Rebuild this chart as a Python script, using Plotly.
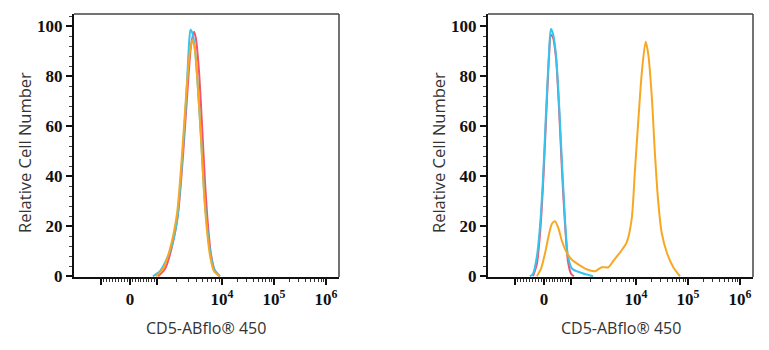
import plotly.graph_objects as go
import math

# x values are display channels (0-1024) of the biexponential axis
tick_channels = [104, 216, 321, 572, 773, 974]
tick_labels = ["", "0", "", "10<sup>4</sup>", "10<sup>5</sup>", "10<sup>6</sup>"]
y_ticks = [0, 20, 40, 60, 80, 100]

# Left panel (CD5-negative cells)
left_cyan_x = [305, 332, 371, 398, 417, 433, 444, 450, 458, 468, 479, 491, 502, 514, 526, 541, 564]
left_cyan_y = [0, 2, 10, 22, 45, 70, 92, 98.5, 97, 90, 75, 55, 35, 20, 10, 3, 0]
left_red_x = [325, 352, 379, 402, 421, 437, 452, 464, 471, 483, 495, 506, 518, 529, 545, 564]
left_red_y = [0, 3, 12, 25, 48, 72, 92, 97.7, 95, 82, 60, 38, 20, 9, 2, 0]
left_gold_x = [317, 344, 371, 398, 417, 433, 448, 458, 468, 479, 491, 502, 514, 526, 541, 564]
left_gold_y = [0, 3, 11, 25, 48, 72, 90, 94.5, 90, 75, 55, 34, 18, 8, 2, 0]

# Right panel (CD5-positive cells)
right_cyan_x = [162, 174, 189, 201, 213, 224, 236, 243, 251, 263, 274, 286, 298, 309, 325, 356, 406]
right_cyan_y = [0, 1, 8, 20, 40, 65, 90, 98.8, 97, 88, 70, 45, 22, 8, 3, 1.5, 0]
right_red_x = [174, 189, 201, 213, 224, 236, 243, 251, 263, 274, 286, 298, 309, 321, 332]
right_red_y = [0, 5, 17, 37, 62, 88, 96.5, 95.5, 87, 68, 42, 20, 6, 1, 0]
right_gold_x = [189, 205, 220, 236, 247, 259, 271, 286, 304, 325, 356, 381, 413, 439, 465, 484,
                510, 536, 555, 568, 581, 594, 609, 619, 633, 645, 658, 671, 691, 716, 742]
right_gold_y = [0, 3, 9, 17, 21, 22, 19.5, 14, 9.5, 6.5, 4.3, 2.8, 2, 3.6, 3.6, 6.1,
                9.5, 13.5, 22.7, 42.6, 62.5, 81, 93.7, 89, 71.8, 49, 29.5, 17.5, 9.5, 3.6, 0]

RED = "#f0566c"
CYAN = "#36c3ee"
GOLD = "#f7a823"

fig = go.Figure()

def add(x, y, color, xa, ya):
    fig.add_trace(go.Scatter(x=x, y=y, mode="lines", xaxis=xa, yaxis=ya,
                             line=dict(color=color, width=2, shape="spline", smoothing=0.7),
                             showlegend=False, hoverinfo="skip"))

add(left_red_x, left_red_y, RED, "x", "y")
add(left_cyan_x, left_cyan_y, CYAN, "x", "y")
add(left_gold_x, left_gold_y, GOLD, "x", "y")
add(right_red_x, right_red_y, RED, "x2", "y2")
add(right_cyan_x, right_cyan_y, CYAN, "x2", "y2")
add(right_gold_x, right_gold_y, GOLD, "x2", "y2")

# minor ticks on the biexponential axis
minor = []
for k in range(1, 10):
    minor.append(216 - k * 11.2)
    minor.append(216 + k * 10.5)
for k in range(2, 10):
    minor.append(321 + 251 * math.log10(k))
    minor.append(572 + 201 * math.log10(k))
    minor.append(773 + 201 * math.log10(k))

tickfont = dict(family="Liberation Serif", size=17, color="#111")
xcommon = dict(range=[0, 1024], tickmode="array", tickvals=tick_channels,
               ticktext=["<b>%s</b>" % t if t else "" for t in tick_labels],
               ticks="outside", ticklen=6, tickwidth=1.5, tickcolor="#111",
               showline=True, linecolor="#111", linewidth=2, showgrid=False, zeroline=False,
               tickfont=tickfont, automargin=False,
               minor=dict(tickvals=minor, ticks="outside", ticklen=3, tickwidth=1, tickcolor="#333"))
ycommon = dict(range=[-0.3, 104.8], tickmode="array", tickvals=y_ticks,
               ticktext=["<b>%d</b>" % v for v in y_ticks],
               ticks="outside", ticklen=6, tickwidth=1.5, tickcolor="#111",
               showline=True, linecolor="#111", linewidth=2, showgrid=False, zeroline=False,
               tickfont=tickfont, automargin=False,
               minor=dict(dtick=4, ticks="outside", ticklen=3, tickwidth=1, tickcolor="#444"))

W, H = 769, 350
ybot, ytop = 1 - 277 / H, 1 - 14 / H
fig.update_layout(
    width=W, height=H, margin=dict(l=0, r=0, t=0, b=0, pad=0, autoexpand=False),
    paper_bgcolor="white", plot_bgcolor="white",
    xaxis=dict(domain=[74 / W, 339 / W], anchor="y", **xcommon),
    yaxis=dict(domain=[ybot, ytop], anchor="x", **ycommon),
    xaxis2=dict(domain=[488 / W, 753 / W], anchor="y2", **xcommon),
    yaxis2=dict(domain=[ybot, ytop], anchor="x2", **ycommon),
)

# top/right frame lines
for xr, yr in (("x domain", "y domain"), ("x2 domain", "y2 domain")):
    fig.add_shape(type="line", xref=xr, yref=yr, x0=0, x1=1, y0=1, y1=1,
                  line=dict(color="#444", width=1.5))
    fig.add_shape(type="line", xref=xr, yref=yr, x0=1, x1=1, y0=0, y1=1,
                  line=dict(color="#444", width=1.5))

for cx in (206 / W, 621 / W):
    fig.add_annotation(text="CD5-ABflo® 450", x=cx, y=1 - 328 / H, xref="paper", yref="paper",
                       showarrow=False, font=dict(family="Open Sans", size=16, color="#333"),
                       xanchor="center", yanchor="middle")
for cx in (24 / W, 438 / W):
    fig.add_annotation(text="Relative Cell Number", x=cx, y=1 - 153 / H, xref="paper", yref="paper",
                       showarrow=False, textangle=-90,
                       font=dict(family="Open Sans", size=16.5, color="#333"),
                       xanchor="center", yanchor="middle")

fig.write_html("out.html", config={"displayModeBar": False},
               post_script="document.body.style.margin='0px';")
